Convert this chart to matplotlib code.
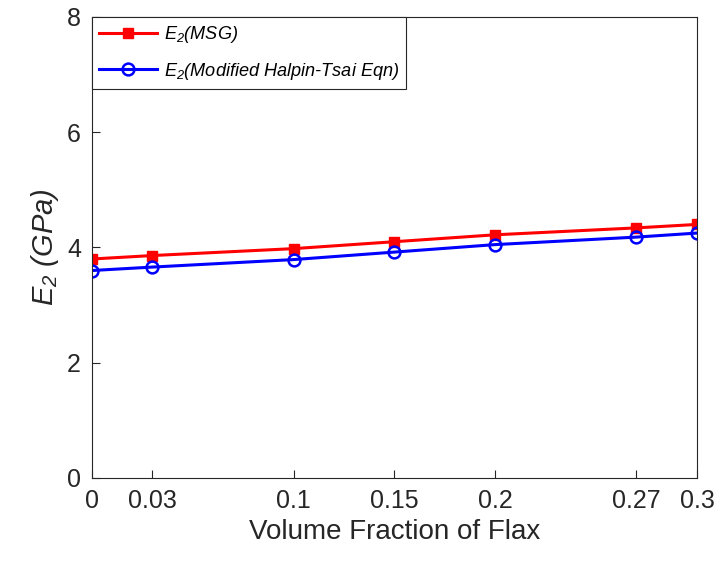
import matplotlib
matplotlib.use("Agg")
import matplotlib.pyplot as plt

plt.rcParams['font.family'] = ['Liberation Sans', 'DejaVu Sans']
plt.rcParams['mathtext.fontset'] = 'custom'
plt.rcParams['mathtext.rm'] = 'Liberation Sans'
plt.rcParams['mathtext.it'] = 'Liberation Sans:italic'
plt.rcParams['mathtext.default'] = 'regular'

# data
vf = [0, 0.03, 0.1, 0.15, 0.2, 0.27, 0.3]
e2_msg = [3.80, 3.86, 3.98, 4.10, 4.22, 4.34, 4.40]
e2_hts = [3.60, 3.66, 3.79, 3.92, 4.05, 4.18, 4.25]
xtick_labels = ['0', '0.03', '0.1', '0.15', '0.2', '0.27', '0.3']
yticks = [0, 2, 4, 6, 8]

fig = plt.figure(figsize=(7.21, 5.65), dpi=100)
ax = fig.add_axes([0.1276, 0.154, 0.8391, 0.816])

ax.plot(vf, e2_msg, color='#ff0000', lw=2.2, marker='s', ms=7,
        mfc='#ff0000', mec='#ff0000', label='E$_2$(MSG)')
ax.plot(vf, e2_hts, color='#0000ff', lw=2.2, marker='o', ms=8.5, mfc='none',
        mec='#0000ff', mew=1.8, label='E$_2$(Modified Halpin-Tsai Eqn)')

ax.set_xlim(0, 0.3)
ax.set_ylim(0, 8)
ax.set_xticks(vf)
ax.set_xticklabels(xtick_labels)
ax.set_yticks(yticks)
ax.tick_params(direction='in', length=6, width=0.8, labelsize=18, colors='#262626',
               top=False, right=False, pad=8)
for s in ax.spines.values():
    s.set_color('#262626')
    s.set_linewidth(0.8)

ax.set_xlabel('Volume Fraction of Flax', fontsize=20, color='#262626', labelpad=4)
ax.set_ylabel('E$_2$ (GPa)', fontsize=21, fontstyle='italic', color='#262626', labelpad=4)

leg = ax.legend(loc='upper left', prop={'style': 'italic', 'size': 13.1},
                fancybox=False, edgecolor='#262626', framealpha=1,
                borderaxespad=0.0, handlelength=3.2, handletextpad=0.35,
                labelspacing=0.85, borderpad=0.4)
leg.get_frame().set_linewidth(0.8)

fig.savefig('out.png', dpi=100)
